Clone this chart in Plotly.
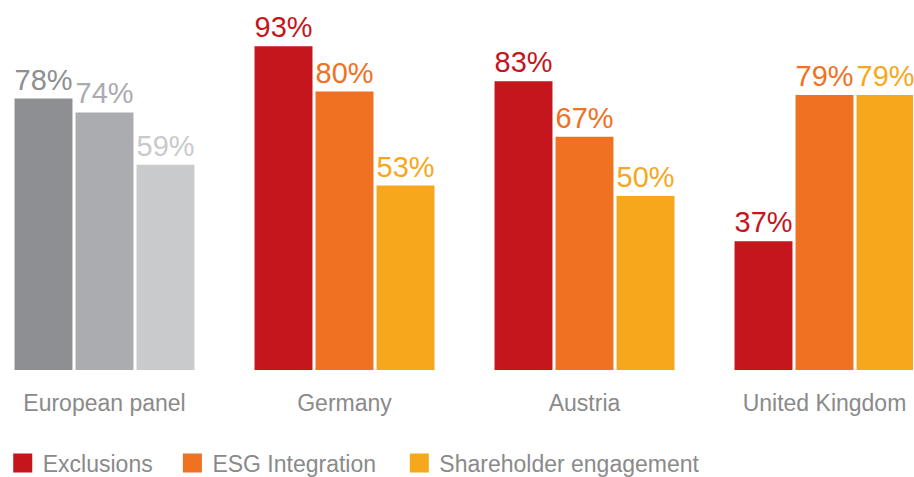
import plotly.graph_objects as go

categories = ["European panel", "Germany", "Austria", "United Kingdom"]
series_names = ["Exclusions", "ESG Integration", "Shareholder engagement"]
exclusions = [78, 93, 83, 37]
esg_integration = [74, 80, 67, 79]
shareholder_engagement = [59, 53, 50, 79]

series_values = [exclusions, esg_integration, shareholder_engagement]
main_colors = ["#C4161C", "#F07122", "#F7A71C"]
grey_colors = ["#8E8F93", "#ABACB0", "#C9CACC"]

FONT = "Liberation Sans"

fig = go.Figure()
for i, (name, vals) in enumerate(zip(series_names, series_values)):
    cols = [grey_colors[i]] + [main_colors[i]] * (len(categories) - 1)
    fig.add_trace(go.Bar(
        x=list(range(len(categories))), y=vals, name=name,
        marker=dict(color=cols, line=dict(width=0)),
        text=[f"{v}%" for v in vals], textposition="outside",
        textfont=dict(family=FONT, size=29, color=cols),
        cliponaxis=False, showlegend=False,
    ))

legend_x = [0.003, 0.1886, 0.4369]
for i, name in enumerate(series_names):
    lg = "legend" if i == 0 else f"legend{i+1}"
    fig.add_trace(go.Scatter(
        x=[None], y=[None], mode="markers", name=name,
        marker=dict(symbol="square", size=16, color=main_colors[i],
                    line=dict(width=3, color=main_colors[i])),
        legend=lg, showlegend=True,
    ))

legend_common = dict(orientation="h", xref="container", yref="container",
                     yanchor="middle", y=(477 - 463) / 477, xanchor="left",
                     font=dict(family=FONT, size=23, color="#8A8A8A"),
                     bgcolor="rgba(0,0,0,0)", borderwidth=0)

fig.update_layout(
    width=914, height=477,
    margin=dict(l=13, r=1, t=22, b=107, autoexpand=False),
    paper_bgcolor="white", plot_bgcolor="white",
    barmode="group", bargap=0.2375, bargroupgap=0.05,
    xaxis=dict(range=[-0.38125, 3.36875], tickmode="array",
               tickvals=list(range(len(categories))), ticktext=categories,
               showgrid=False, zeroline=False, showline=False, ticks="",
               ticklabelstandoff=17, automargin=False,
               tickfont=dict(family=FONT, size=23, color="#8A8A8A")),
    yaxis=dict(range=[0, 100], visible=False, automargin=False),
    legend=dict(**legend_common, x=legend_x[0]),
    legend2=dict(**legend_common, x=legend_x[1]),
    legend3=dict(**legend_common, x=legend_x[2]),
)

fig.write_html("out.html", config={"displayModeBar": False},
               post_script="document.body.style.margin='0';document.body.style.overflow='hidden';")
